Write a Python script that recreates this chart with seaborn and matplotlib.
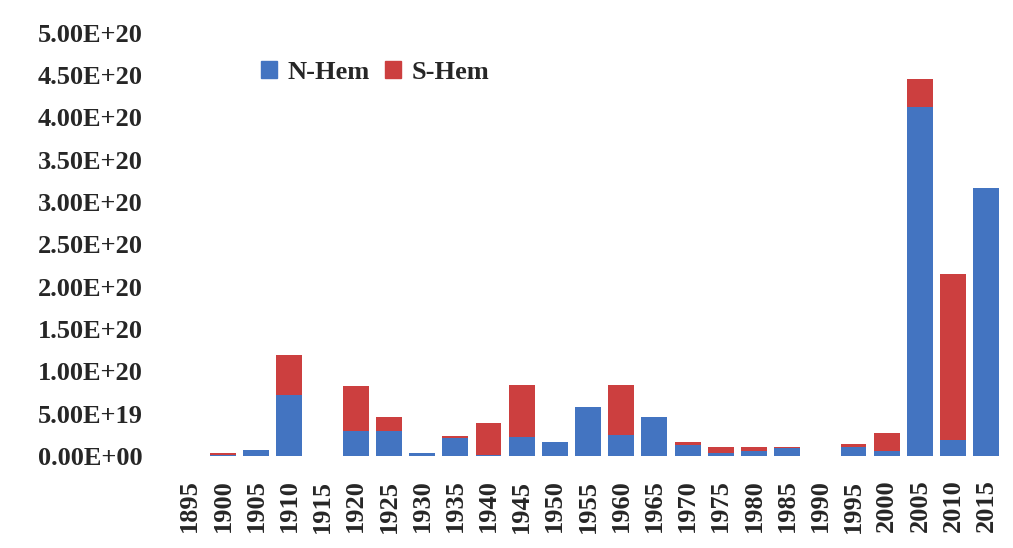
import numpy as np
import pandas as pd
import matplotlib
matplotlib.use("Agg")
import matplotlib.pyplot as plt
import seaborn as sns
from matplotlib.patches import Patch

years = [1895, 1900, 1905, 1910, 1915, 1920, 1925, 1930, 1935, 1940, 1945, 1950,
         1955, 1960, 1965, 1970, 1975, 1980, 1985, 1990, 1995, 2000, 2005, 2010, 2015]
# values in units of 1e19
n_hem = [0, 0.1, 0.7, 7.2, 0, 3.0, 3.0, 0.4, 2.1, 0.1, 2.2, 1.7,
         5.8, 2.5, 4.6, 1.3, 0.3, 0.6, 0.9, 0, 1.0, 0.6, 41.2, 1.9, 31.7]
s_hem = [0, 0.3, 0.0, 4.7, 0, 5.3, 1.6, 0.0, 0.2, 3.8, 6.2, 0.0,
         0.0, 5.9, 0.0, 0.3, 0.7, 0.4, 0.2, 0, 0.4, 2.1, 3.4, 19.6, 0.0]

BLUE = "#4374C1"
RED = "#CC3F3F"

df = pd.DataFrame({
    "year": [str(y) for y in years],
    "N": np.array(n_hem) * 1e19,
    "S": np.array(s_hem) * 1e19,
})
df["total"] = df["N"] + df["S"]

sns.set_style("white")
plt.rcParams["font.family"] = ["Liberation Serif", "DejaVu Serif"]

fig = plt.figure(figsize=(10.13, 5.48), dpi=100)
ax = fig.add_axes([0.171, 0.168, 0.819, 0.772])

# stacked: total (red) behind, N-Hem (blue) in front
sns.barplot(data=df, x="year", y="total", color=RED, width=0.78,
            saturation=1, linewidth=0, ax=ax)
sns.barplot(data=df, x="year", y="N", color=BLUE, width=0.78,
            saturation=1, linewidth=0, ax=ax)

ax.set_xlim(-0.5, len(years) - 0.5)
ax.set_ylim(0, 5e20)
ax.set_yticks(np.arange(0, 5.01e20, 5e19))
ax.set_yticklabels([f"{v:.2E}" for v in np.arange(0, 5.01e20, 5e19)],
                   fontsize=19, fontweight="bold")
ax.set_xticks(range(len(years)))
ax.set_xticklabels(df["year"], rotation=90, fontsize=19, fontweight="bold")
ax.tick_params(axis="y", length=0, pad=22)
ax.tick_params(axis="x", length=0, pad=17)
ax.set_xlabel("")
ax.set_ylabel("")
for s in ax.spines.values():
    s.set_visible(False)

handles = [Patch(color=BLUE, label="N-Hem"), Patch(color=RED, label="S-Hem")]
ax.legend(handles=handles, loc="upper left", bbox_to_anchor=(0.077, 0.99),
          ncol=2, frameon=False, handlelength=0.6, handleheight=0.6,
          handletextpad=0.4, columnspacing=0.6,
          prop={"size": 19, "weight": "bold"})

fig.savefig("out.png", dpi=100)
